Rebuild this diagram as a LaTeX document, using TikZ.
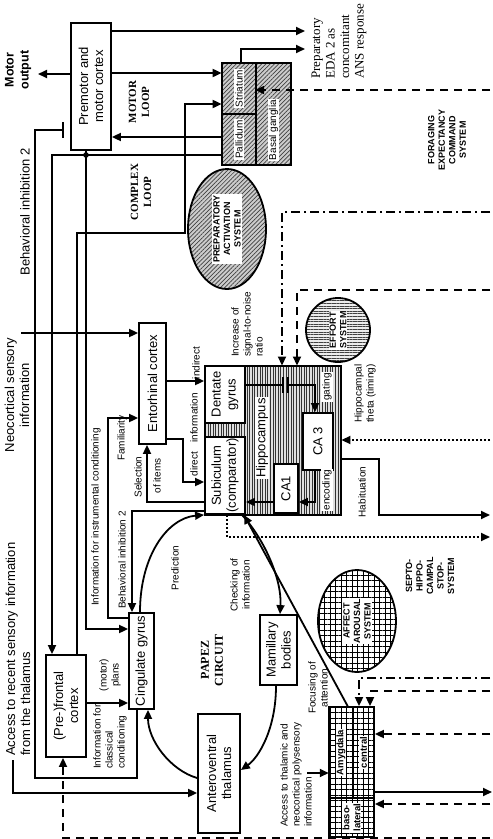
\documentclass[tikz,border=0pt]{standalone}
\usepackage{fontspec}
\setmainfont{Liberation Sans}
\newfontfamily\timesfont{Liberation Serif}
\usetikzlibrary{arrows.meta,patterns.meta,shapes.geometric}

\begin{document}
\begin{tikzpicture}[x=1pt, y=-1pt,
    ln/.style={line width=1.8pt},
    arr/.style={line width=1.8pt, -{Triangle[length=9pt,width=8pt]}},
    dsh/.style={arr, dash pattern=on 8pt off 6pt},
    dshdot/.style={arr, dash pattern=on 9pt off 4pt on 2pt off 4pt},
    dots/.style={arr, dash pattern=on 2pt off 2pt},
    box/.style={draw, line width=1.8pt, fill=white, inner sep=0pt},
    diag/.style={draw, line width=1.8pt, inner sep=0pt, preaction={fill=gray!40},
      pattern={Lines[angle=45,distance=3pt,line width=0.7pt]}, pattern color=black!75},
    horiz/.style={draw, line width=1.8pt, inner sep=0pt, preaction={fill=gray!15},
      pattern={Lines[angle=0,distance=2.6pt,line width=0.8pt]}, pattern color=black!75},
    vert/.style={draw, line width=1.8pt, inner sep=0pt, preaction={fill=gray!25},
      pattern={Lines[angle=90,distance=2.6pt,line width=0.9pt]}, pattern color=black!80},
    gridded/.style={draw, line width=1.8pt, inner sep=0pt, preaction={fill=white},
      pattern={Hatch[distance=5.5pt,line width=0.5pt]}, pattern color=black},
    lbl/.style={rotate=90, align=center, inner sep=1pt, font=\fontsize{13}{15}\selectfont},
    smalltxt/.style={rotate=90, align=center, inner sep=1pt, font=\fontsize{10}{12}\selectfont},
    caps/.style={rotate=90, align=center, inner sep=1pt, font=\bfseries\fontsize{9}{10.5}\selectfont},
    loopname/.style={rotate=90, align=center, font=\timesfont\bfseries\fontsize{11}{13}\selectfont}]
\useasboundingbox (0,0) rectangle (493,839);

% cortex and basal ganglia
\node[box, minimum width=40pt, minimum height=127pt] (pmc) at (91,86.5) {};
\node[diag, minimum width=34pt, minimum height=51pt] (str) at (239,88.5) {};
\node[diag, minimum width=34pt, minimum height=51pt] (pal) at (239,139.5) {};
\node[diag, minimum width=35pt, minimum height=102pt] (bg) at (273.5,114) {};
\node[box, minimum width=40pt, minimum height=102pt] (pfc) at (66,706) {};
\node[box, minimum width=25pt, minimum height=96pt] (cing) at (141.5,661) {};
\node[box, minimum width=27pt, minimum height=121pt] (ento) at (152.5,383.5) {};

% hippocampus
\node[vert, minimum width=136pt, minimum height=149pt] (hippo) at (273,440.5) {};
\node[box, minimum width=40pt, minimum height=57pt] (dentate) at (225,394.5) {};
\node[box, minimum width=40pt, minimum height=77pt] (subic) at (225,475.5) {};
\node[box, minimum width=30pt, minimum height=57pt] (ca3) at (318,441.5) {};
\node[box, minimum width=24pt, minimum height=49pt] (ca1) at (286,488.5) {};

% papez circuit boxes
\node[box, minimum width=42pt, minimum height=119pt] (antero) at (219,773.5) {};
\node[box, minimum width=37pt, minimum height=70pt] (mamil) at (278.5,650) {};

% amygdala
\node[gridded, minimum width=24pt, minimum height=91pt] (amy) at (341,752.5) {};
\node[gridded, minimum width=21pt, minimum height=91pt] (cen) at (363.5,752.5) {};
\node[gridded, minimum width=45pt, minimum height=39pt] (baso) at (351.5,817.5) {};

% systems
\node[ellipse, diag, minimum width=78pt, minimum height=120pt] (pas) at (227,229) {};
\node[circle, horiz, minimum size=64pt] (effort) at (338,330) {};
\node[ellipse, gridded, minimum width=78pt, minimum height=102pt] (aas) at (357,621) {};

% free ends
\coordinate (motor) at (38,74);
\coordinate (eda1) at (305,31);
\coordinate (eda2) at (305,49);
\coordinate (fecs) at (490,90);
\coordinate (inh) at (64,130);
\coordinate (neo) at (21,333);
\coordinate (acc) at (13,760);
\coordinate (dd1) at (490,212);
\coordinate (dd2) at (490,290);
\coordinate (theta) at (490,440);
\coordinate (hab) at (490,515);
\coordinate (stop) at (490,537);
\coordinate (poly) at (307,773);
\coordinate (am1) at (490,678);
\coordinate (am2) at (490,691);
\coordinate (am3) at (490,734);
\coordinate (am4) at (492,792);
\coordinate (am5) at (490,804);
\coordinate (am6) at (490,838);

% motor and complex loop
\draw[arr] (pmc.west |- motor) -- (motor);
\draw[arr] (pmc.east |- eda1) -- (eda1);
\draw[arr] (str.north -| 241,0) |- (eda2);
\draw[arr] (pmc.east |- 0,73) -- (str.west |- 0,73);
\draw[arr] (pal.west |- 0,137) -- (pmc.east |- 0,137);
\draw[dsh] (fecs) -- (bg.west |- fecs);
\draw[arr] (pfc.north -| 77,0) -- (77,233) -- (185,233) |- (str.west |- 0,104);
\draw[arr] (pal.west |- 0,155) -- (52,155) -- (pfc.north -| 52,0);
\fill (86,155) circle (2.8);
\draw[arr] (pmc.south -| 86,0) |- (cing.west |- 0,629);
\draw[arr] (cing.west |- 0,618) -- (108,618) |- (ento.west |- 0,418);
\draw[ln, -{Bar[width=16pt,line width=1.8pt]}] (cing.south -| 137,0) -- (137,778) -- (35,778) |- (inh);

% sensory input
\draw[arr] (neo) -- (ento.west |- neo);
\draw[arr] (acc) |- (antero.west |- 0,793);

% entorhinal and hippocampus
\draw[arr] (ento.east |- 0,381) -- (dentate.west |- 0,381);
\draw[arr] (ento.east |- 0,439) -- (183,439) |- (subic.west |- 0,482);
\draw[arr] (subic.west |- 0,502) -| (ento.south -| 147,0);
\draw[arr] (subic.west |- 0,511) -| (cing.north -| 132,0);
\draw[arr] (pfc.east |- 0,703) -- (cing.west |- 0,703);
\draw[ln] (dentate.east |- 0,385) -- (283,385);
\draw[ln] (283,377) -- (283,393) (288,377) -- (288,393);
\draw[arr] (288,385) -| (ca3.north -| 315,0);
\draw[arr] (ca3.south -| 315,0) |- (ca1.east |- 0,502);
\draw[arr] (ca1.west |- 0,502) -- (subic.east |- 0,502);
\draw[arr] (hippo.east |- 0,459) -- (379,459) |- (hab);
\draw[dots] (theta) -- (hippo.east |- theta);
\draw[dots] (subic.south -| 227,0) |- (stop);
\draw[dshdot] (dd1) -| (hippo.north -| 282,0);
\draw[dsh] (dd2) -| (hippo.north -| 297,0);

% papez circuit
\draw[arr] (cing.north -| 140,0) .. controls (140,555) and (168,518) .. (subic.south west);
\draw[arr] (subic.south -| 242,0) .. controls (265,540) and (282,580) .. (mamil.north -| 280,0);
\draw[arr] (mamil.south -| 276,0) .. controls (276,730) and (258,758) .. (antero.east |- 0,770);
\draw[arr] (antero.west |- 0,778) .. controls (170,770) and (148,740) .. (cing.south -| 148,0);
\draw[arr] (amy.north -| 348,0) -- (subic.south -| 244,0);

% amygdala in and out
\draw[arr] (poly) -- (amy.west |- poly);
\draw[dshdot] (am1) -| (cen.north -| 359,0);
\draw[dsh] (am2) -| (cen.north -| 370,0);
\draw[dsh] (am3) -- (cen.east |- am3);
\draw[arr] (cen.east |- 0,792) -- (am4);
\draw[dsh] (am5) -- (baso.east |- am5);
\draw[dsh] (am6) -| (pfc.south -| 63,0);

% box labels
\node[lbl] at (pmc) {Premotor and\\motor cortex};
\node[smalltxt, fill=white] at (str) {Striatum};
\node[smalltxt, fill=white] at (pal) {Pallidum};
\node[smalltxt, fill=white] at (273.5,130) {Basal ganglia};
\node[lbl] at (pfc) {(Pre-)frontal\\cortex};
\node[lbl] at (cing) {Cingulate gyrus};
\node[lbl] at (ento) {Entorhinal cortex};
\node[lbl] at (dentate) {Dentate\\gyrus};
\node[lbl] at (subic) {Subiculum\\(comparator)};
\node[lbl, fill=white] at (262,438) {Hippocampus};
\node[lbl] at (ca3) {CA 3};
\node[lbl] at (ca1) {CA1};
\node[lbl] at (antero) {Anteroventral\\thalamus};
\node[lbl] at (mamil) {Mamillary\\bodies};
\node[smalltxt, font=\bfseries\fontsize{9.5}{11}\selectfont, fill=white] at (amy) {Amygdala};
\node[smalltxt, font=\bfseries\fontsize{9.5}{11}\selectfont, fill=white] at (cen) {central};
\node[smalltxt, font=\bfseries\fontsize{9.5}{11}\selectfont, fill=white] at (baso) {baso-\\lateral};
\node[caps, fill=white] at (pas) {PREPARATORY\\ACTIVATION\\SYSTEM};
\node[caps, fill=white] at (effort) {EFFORT\\SYSTEM};
\node[caps, fill=white] at (aas) {AFFECT\\AROUSAL\\SYSTEM};

% side texts
\node[rotate=90, align=center, font=\bfseries\fontsize{12.5}{15}\selectfont] at (18,70) {Motor\\output};
\node[lbl] at (25,212) {Behavioral inhibition 2};
\node[lbl] at (17,395) {Neocortical sensory\\information};
\node[lbl, align=left, anchor=west] at (18,757) {Access to recent sensory information\\from the thalamus};
\node[loopname] at (139,102) {MOTOR\\LOOP};
\node[loopname] at (141,192) {COMPLEX\\LOOP};
\node[loopname, font=\timesfont\bfseries\fontsize{12}{14}\selectfont] at (212,660) {PAPEZ\\CIRCUIT};
\node[caps] at (447,140) {FORAGING\\EXPECTANCY\\COMMAND\\SYSTEM};
\node[caps] at (430,576) {SEPTO-\\HIPPO-\\CAMPAL\\STOP-\\SYSTEM};
\node[rotate=90, align=left, anchor=west, inner sep=1pt, font=\timesfont\fontsize{13}{14.5}\selectfont] at (339,80) {Preparatory\\EDA 2 as\\concomitant\\ANS response};

% connector labels
\node[smalltxt] at (196,363) {indirect};
\node[smalltxt] at (194,418) {information};
\node[smalltxt] at (194,464) {direct};
\node[smalltxt] at (122,438) {Familiarity};
\node[smalltxt] at (138,477) {Selection};
\node[smalltxt] at (157,476) {of items};
\node[smalltxt] at (96,517) {Information for instrumental conditioning};
\node[smalltxt] at (122,560) {Behavioral inhibition 2};
\node[smalltxt] at (175,568) {Prediction};
\node[smalltxt] at (240,585) {Checking of\\information};
\node[smalltxt] at (110,675) {(motor)\\plans};
\node[smalltxt, align=left, anchor=west] at (110,770) {Information for\\classical\\conditioning};
\node[smalltxt, align=left, anchor=west] at (247,358) {Increase of\\signal-to-noise\\ratio};
\node[smalltxt, align=left, anchor=west] at (365,424) {Hippocampal\\theta (timing)};
\node[smalltxt] at (362,492) {Habituation};
\node[smalltxt, fill=white] at (327,387) {gating};
\node[smalltxt, fill=white] at (327,490) {encoding};
\node[smalltxt] at (318,688) {Focusing of\\attention};
\node[smalltxt, align=left, anchor=west] at (296,828) {Access to thalamic and\\neocortical polysensory\\information};
\end{tikzpicture}
\end{document}
